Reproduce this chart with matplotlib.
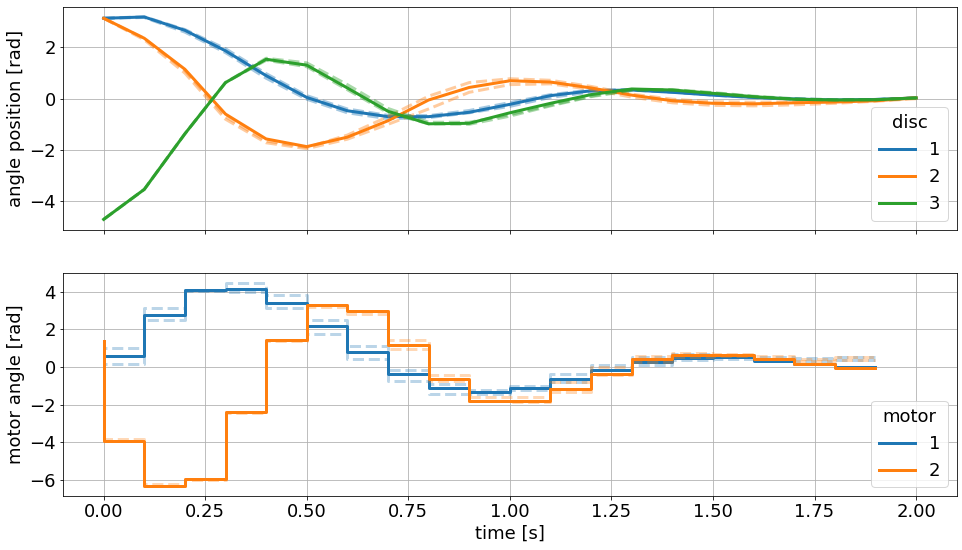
import matplotlib
matplotlib.use("Agg")
import matplotlib.pyplot as plt
import numpy as np

plt.rcParams["font.size"] = 18

# disc angles, sampled every 0.1 s
t_disc = [0.0, 0.1, 0.2, 0.3, 0.4, 0.5, 0.6, 0.7, 0.8, 0.9, 1.0,
          1.1, 1.2, 1.3, 1.4, 1.5, 1.6, 1.7, 1.8, 1.9, 2.0]
disc1 = [3.14, 3.19, 2.67, 1.87, 0.90, 0.05, -0.47, -0.70, -0.70, -0.53, -0.22,
         0.12, 0.31, 0.34, 0.25, 0.14, 0.05, -0.01, -0.05, -0.03, 0.03]
disc2 = [3.14, 2.36, 1.15, -0.60, -1.57, -1.87, -1.50, -0.86, -0.05, 0.44, 0.70,
         0.65, 0.42, 0.14, -0.08, -0.18, -0.20, -0.16, -0.13, -0.08, 0.03]
disc3 = [-4.71, -3.54, -1.37, 0.63, 1.54, 1.31, 0.42, -0.49, -0.98, -0.96, -0.55,
         -0.18, 0.16, 0.38, 0.34, 0.21, 0.08, -0.02, -0.05, -0.04, 0.03]

# faint dashed runs around each disc trajectory
disc1_runs = [
    [3.14, 3.17, 2.60, 1.80, 0.80, -0.02, -0.55, -0.78, -0.74, -0.55, -0.30,
     0.05, 0.26, 0.33, 0.26, 0.15, 0.06, 0.00, -0.04, -0.03, 0.03],
    [3.14, 3.20, 2.70, 1.95, 0.98, 0.12, -0.40, -0.65, -0.66, -0.46, -0.15,
     0.16, 0.34, 0.36, 0.26, 0.14, 0.04, -0.02, -0.06, -0.03, 0.03],
]
disc2_runs = [
    [3.14, 2.30, 1.00, -0.80, -1.72, -1.95, -1.58, -1.00, -0.40, 0.25, 0.55,
     0.58, 0.36, 0.06, -0.16, -0.26, -0.28, -0.24, -0.18, -0.10, 0.00],
    [3.14, 2.36, 1.10, -0.70, -1.65, -1.90, -1.42, -0.70, 0.10, 0.63, 0.78,
     0.72, 0.48, 0.18, -0.02, -0.12, -0.14, -0.12, -0.10, -0.05, 0.05],
]
disc3_runs = [
    [-4.71, -3.54, -1.37, 0.63, 1.58, 1.40, 0.55, -0.38, -0.92, -0.92, -0.62,
     -0.25, 0.10, 0.35, 0.36, 0.24, 0.10, 0.00, -0.04, -0.04, 0.03],
    [-4.71, -3.54, -1.37, 0.63, 1.50, 1.25, 0.35, -0.55, -0.98, -1.00, -0.68,
     -0.28, 0.08, 0.32, 0.33, 0.22, 0.08, -0.02, -0.05, -0.04, 0.03],
]

# motor commands (steps-pre: first value is the initial state)
t_motor = [0.0, 0.1, 0.2, 0.3, 0.4, 0.5, 0.6, 0.7, 0.8, 0.9,
           1.0, 1.1, 1.2, 1.3, 1.4, 1.5, 1.6, 1.7, 1.8, 1.9]
motor1 = [-1.10, 0.59, 2.76, 4.08, 4.15, 3.42, 2.17, 0.78, -0.38, -1.11,
          -1.34, -1.11, -0.63, -0.18, 0.27, 0.48, 0.52, 0.32, 0.18, 0.02]
motor2 = [1.40, -3.92, -6.31, -5.97, -2.41, 1.42, 3.28, 2.97, 1.19, -0.63,
          -1.79, -1.79, -1.16, -0.36, 0.41, 0.66, 0.66, 0.44, 0.16, -0.04]

motor1_runs = [
    [-1.10, 1.02, 3.12, 4.10, 4.45, 3.83, 2.49, 1.12, -0.18, -0.89,
     -1.25, -1.00, -0.36, 0.12, 0.53, 0.71, 0.62, 0.55, 0.50, 0.53],
    [-1.10, 0.16, 2.49, 4.02, 4.00, 3.12, 1.78, 0.44, -0.72, -1.43,
     -1.45, -1.20, -0.80, -0.36, 0.09, 0.35, 0.45, 0.35, 0.30, 0.35],
]
motor2_runs = [
    [1.40, -3.85, -6.25, -5.95, -2.38, 1.46, 3.32, 3.00, 1.46, -0.41,
     -1.60, -1.60, -0.80, 0.00, 0.60, 0.75, 0.70, 0.60, 0.45, 0.53],
    [1.40, -3.95, -6.33, -6.00, -2.43, 1.38, 3.20, 2.80, 0.94, -0.72,
     -1.80, -1.85, -1.34, -0.45, 0.25, 0.55, 0.60, 0.45, 0.30, 0.35],
]

colors = ["tab:blue", "tab:orange", "tab:green"]

fig, (ax1, ax2) = plt.subplots(2, 1, sharex=True, figsize=(962 / 72, 550 / 72), dpi=72)
fig.subplots_adjust(left=0.0655, right=0.9945, top=0.988, bottom=0.098, hspace=0.196)

# top: disc positions
for i, (sol, runs) in enumerate(zip([disc1, disc2, disc3],
                                    [disc1_runs, disc2_runs, disc3_runs])):
    for run in runs:
        ax1.plot(t_disc, run, "--", color=colors[i], lw=3, alpha=0.4)
    ax1.plot(t_disc, sol, color=colors[i], lw=3, label=str(i + 1))
ax1.set_ylabel("angle position [rad]")
ax1.grid(True)
ax1.legend(title="disc", loc="lower right")

# bottom: motor angles
for i, (sol, runs) in enumerate(zip([motor1, motor2], [motor1_runs, motor2_runs])):
    for run in runs:
        ax2.plot(t_motor, run, "--", color=colors[i], lw=3, alpha=0.3,
                 drawstyle="steps-pre")
    ax2.plot(t_motor, sol, color=colors[i], lw=3, drawstyle="steps-pre",
             label=str(i + 1))
ax2.set_ylabel("motor angle [rad]")
ax2.set_xlabel("time [s]")
ax2.grid(True)
ax2.legend(title="motor", loc="lower right")

fig.savefig("out.png", dpi=72)
